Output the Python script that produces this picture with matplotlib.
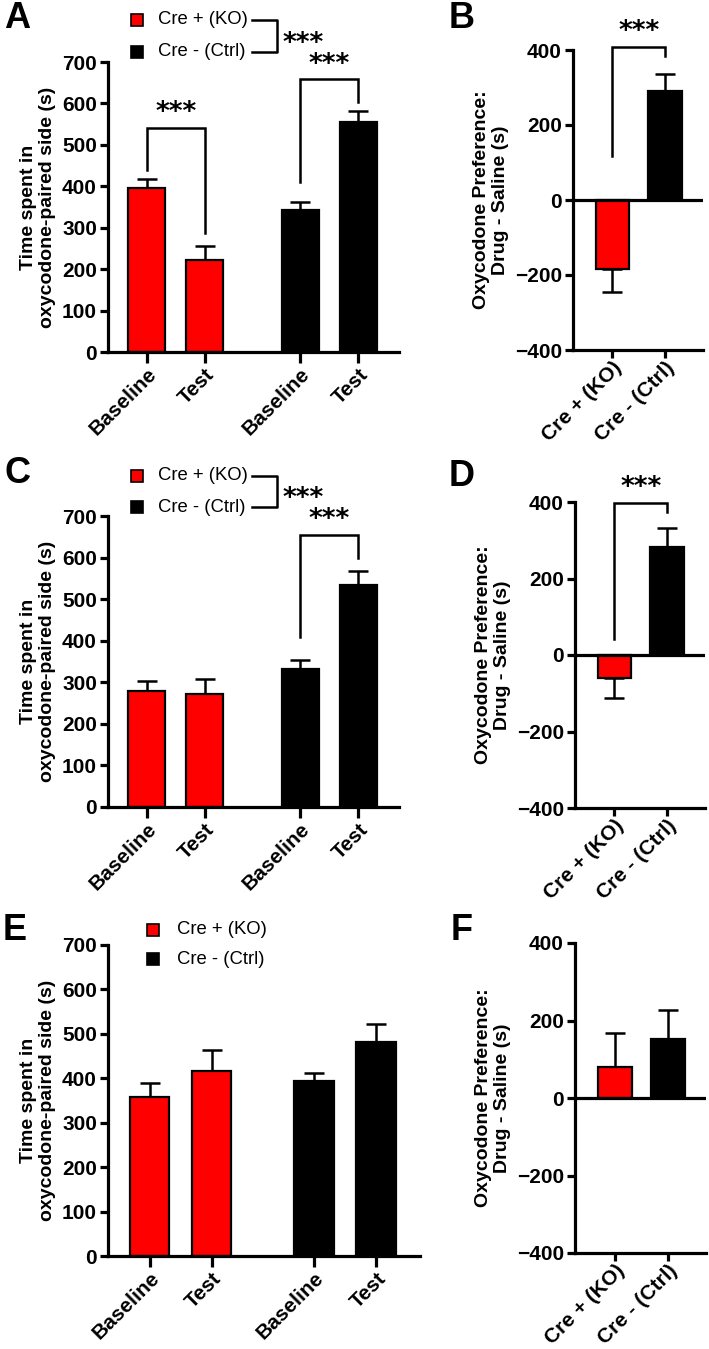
import matplotlib.pyplot as plt
from matplotlib.patches import Rectangle

plt.rcParams['font.family'] = ['Liberation Sans', 'DejaVu Sans']

W, H = 709, 1349
RED = '#ff0000'

groups = ['Baseline', 'Test', 'Baseline', 'Test']
genotypes = ['Cre + (KO)', 'Cre - (Ctrl)']

# panel A
a_ko = [395, 222]
a_ko_sem = [23, 33]
a_ctrl = [343, 554]
a_ctrl_sem = [18, 28]
# panel B
b_pref = [-183, 290]
b_sem = [62, 45]
# panel C
c_ko = [278, 272]
c_ko_sem = [25, 37]
c_ctrl = [332, 534]
c_ctrl_sem = [22, 34]
# panel D
d_pref = [-60, 282]
d_sem = [52, 50]
# panel E
e_ko = [358, 417]
e_ko_sem = [31, 46]
e_ctrl = [393, 482]
e_ctrl_sem = [18, 40]
# panel F
f_pref = [80, 152]
f_sem = [87, 74]

pos = [0, 1, 2.655, 3.655]
STAR_FONT = ['DejaVu Sans']


def fig_box(x0, y0, x1, y1):
    return [x0 / W, 1 - y1 / H, (x1 - x0) / W, (y1 - y0) / H]


def px(x, y):
    return x / W, 1 - y / H


def style_axes(ax, xlen=8, xpad=1):
    for s in ['top', 'right']:
        ax.spines[s].set_visible(False)
    for s in ['left', 'bottom']:
        ax.spines[s].set_linewidth(2.3)
    ax.tick_params(axis='both', width=2.3, length=6, labelsize=15, pad=2)
    ax.tick_params(axis='x', length=xlen, pad=xpad)
    for lab in ax.get_yticklabels():
        lab.set_fontweight('bold')


def bars(ax, x, means, sems, colors):
    ax.bar(x, means, width=0.64, color=colors, edgecolor='black', linewidth=1.6, zorder=2)
    for xi, m, s in zip(x, means, sems):
        yerr = [[0], [s]] if m >= 0 else [[s], [0]]
        ax.errorbar([xi], [m], yerr=yerr, fmt='none', ecolor='black',
                    elinewidth=1.8, capsize=7, capthick=1.8, zorder=1)


def bracket(ax, x0, x1, top, left, right, star_off):
    ax.plot([x0, x0, x1, x1], [left, top, top, right], color='black', lw=1.8,
            clip_on=False, solid_joinstyle='miter')
    ax.text((x0 + x1) / 2, top + star_off, '***', ha='center', va='bottom',
            fontsize=19, fontweight='bold', family=STAR_FONT, clip_on=False)


def time_panel(box, ko, ko_sem, ctrl, ctrl_sem, xr):
    ax = fig.add_axes(fig_box(*box))
    bars(ax, pos, ko + ctrl, ko_sem + ctrl_sem, [RED, RED, 'black', 'black'])
    ax.set_xlim(-0.67, xr)
    ax.set_ylim(0, 700)
    ax.set_yticks(range(0, 701, 100))
    ax.set_xticks(pos)
    ax.set_xticklabels(groups, rotation=45, ha='right', rotation_mode='anchor',
                       fontsize=11, fontweight='bold')
    ax.set_ylabel('Time spent in\noxycodone-paired side (s)', fontsize=14,
                  fontweight='bold', labelpad=4)
    style_axes(ax)
    return ax


def pref_panel(box, pref, sem):
    ax = fig.add_axes(fig_box(*box))
    bars(ax, [0, 1], pref, sem, [RED, 'black'])
    ax.axhline(0, color='black', lw=2.3, zorder=3)
    ax.set_xlim(-0.75, 1.72)
    ax.set_ylim(-400, 400)
    ax.set_yticks([-400, -200, 0, 200, 400])
    ax.set_xticks([0, 1])
    ax.set_xticklabels(genotypes, rotation=45, ha='right', rotation_mode='anchor',
                       fontsize=10, fontweight='bold')
    ax.set_ylabel('Oxycodone Preference:\nDrug - Saline (s)', fontsize=14,
                  fontweight='bold', labelpad=4)
    style_axes(ax, xlen=6, xpad=0)
    return ax


def legend(x, y1, y2, text_x, with_bracket, bx=None, sx=None, sy=None):
    for yy, c in [(y1, RED), (y2, 'black')]:
        fx, fy = px(x - 6, yy + 6)
        fig.patches.append(Rectangle((fx, fy), 12 / W, 12 / H, facecolor=c,
                                     edgecolor='black', lw=1.2,
                                     transform=fig.transFigure, figure=fig))
    fig.text(*px(text_x, y1), genotypes[0], fontsize=13.3, va='center', ha='left')
    fig.text(*px(text_x, y2), genotypes[1], fontsize=13.3, va='center', ha='left')
    if with_bracket:
        xs = [bx[0], bx[1], bx[1], bx[0]]
        ys = [y1, y1, y2, y2]
        fig.lines.append(plt.Line2D([v / W for v in xs], [1 - v / H for v in ys],
                                    color='black', lw=1.8, transform=fig.transFigure))
        fig.text(*px(sx, sy), '***', fontsize=19, fontweight='bold',
                 family=STAR_FONT, ha='left', va='center')


fig = plt.figure(figsize=(W / 100, H / 100), dpi=100)

# row 1
axA = time_panel((108, 62, 399, 352), a_ko, a_ko_sem, a_ctrl, a_ctrl_sem, 4.36)
bracket(axA, pos[0], pos[1], 541, 440, 287, 4)
bracket(axA, pos[2], pos[3], 658, 410, 604, 4)
axB = pref_panel((573, 50, 703, 350), b_pref, b_sem)
bracket(axB, 0, 1, 407, 118, 383, 6)

# row 2
axC = time_panel((108, 516, 399, 807), c_ko, c_ko_sem, c_ctrl, c_ctrl_sem, 4.36)
bracket(axC, pos[2], pos[3], 654, 409, 599, 4)
axD = pref_panel((575, 502, 705, 808), d_pref, d_sem)
bracket(axD, 0, 1, 397, 42, 374, 6)

# row 3
axE = time_panel((108, 945, 420, 1256), e_ko, e_ko_sem, e_ctrl, e_ctrl_sem, 4.36)
axF = pref_panel((575, 943, 706, 1253), f_pref, f_sem)

legend(137, 20, 52, 158, True, bx=(252, 277), sx=283, sy=44)
legend(137, 476, 507, 158, True, bx=(252, 277), sx=283, sy=499)
legend(153, 930, 959, 177, False)

for letter, (x, y) in zip('ABCDEF', [(17, 18), (462, 18), (17, 473),
                                     (462, 477), (15, 930), (462, 930)]):
    fig.text(*px(x, y), letter, fontsize=26, fontweight='bold', ha='center', va='center')

fig.savefig('out.png', dpi=100)
